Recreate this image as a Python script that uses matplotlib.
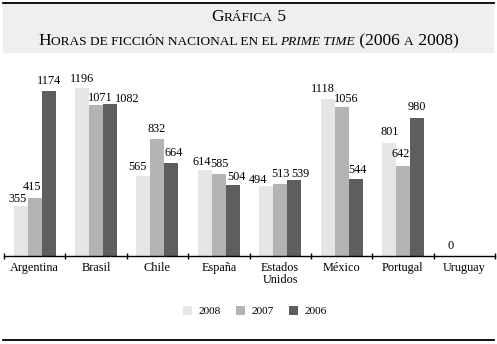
import matplotlib
matplotlib.use("Agg")
import matplotlib.pyplot as plt
import numpy as np
from matplotlib.patches import Rectangle
from matplotlib.lines import Line2D

plt.rcParams['font.family'] = ['Liberation Serif', 'DejaVu Serif']

countries = ["Argentina", "Brasil", "Chile", "España", "Estados\nUnidos", "México", "Portugal", "Uruguay"]
years = ["2008", "2007", "2006"]
v2008 = [355, 1196, 565, 614, 494, 1118, 801, 0]
v2007 = [415, 1071, 832, 585, 513, 1056, 642, 0]
v2006 = [1174, 1082, 664, 504, 539, 544, 980, 0]
colors = ["#e6e6e6", "#b3b3b3", "#5e5e5e"]

# label nudges (pixels): horizontal shift and gap above bar, per country x series
label_dx = [[-3.5, -3, 0.5], [-0.5, 4, 17], [-6, -1, 2], [-3.5, 1, 3.5],
            [-8, 0, 6.5], [-4.5, 4.5, 2], [0.5, -2, -0.5], [0, None, None]]
label_gap = [[4, 8, 7], [6, 4.6, 1.5], [6.5, 7, 6.6], [4.6, 7, 5],
             [3, 7, 3], [7, 5, 6], [8, 9, 8], [7, None, None]]

W, H = 497, 344
fig = plt.figure(figsize=(W/100, H/100), dpi=100)
fig.patch.set_facecolor("white")

# title band
fig.patches.append(Rectangle((3/W, 1 - 53/H), 491/W, 50/H, transform=fig.transFigure,
                             facecolor="#efefef", edgecolor="none", zorder=0))
fig.lines.append(Line2D([3/W, 494/W], [1 - 3/H, 1 - 3/H], transform=fig.transFigure, color="black", lw=1.3))
fig.lines.append(Line2D([3/W, 494/W], [1 - 340/H, 1 - 340/H], transform=fig.transFigure, color="black", lw=1.3))

ax = fig.add_axes([4/W, 88/H, 491/W, 197/H])
n = len(countries)
x = np.arange(n)
bw = 0.228
series = [v2008, v2007, v2006]
for i, (vals, c, yr) in enumerate(zip(series, colors, years)):
    xs = x + (i - 1) * bw
    ax.bar(xs, vals, width=bw, color=c, label=yr, edgecolor="none")

# value labels
for j in range(n):
    for i in range(3):
        if label_dx[j][i] is None:
            continue
        v = series[i][j]
        ax.annotate(str(v), xy=(x[j] + (i - 1) * bw, v),
                    xytext=(label_dx[j][i], label_gap[j][i]), textcoords="offset pixels",
                    ha="center", va="baseline", fontsize=8.8)

ax.set_xlim(-0.5, n - 0.5)
ax.set_ylim(0, 1400)
for s in ["top", "right", "left"]:
    ax.spines[s].set_visible(False)
ax.spines["bottom"].set_linewidth(1.0)
ax.set_yticks([])
ax.set_xticks(np.arange(-0.5, n, 1.0))
ax.set_xticklabels([])
ax.tick_params(axis="x", direction="inout", length=5, width=1)
ax.set_xticks(x, minor=True)
ax.set_xticklabels(countries, minor=True, fontsize=8.8, linespacing=1.1)
ax.tick_params(axis="x", which="minor", length=0, pad=4)

leg = fig.legend(loc="center", bbox_to_anchor=(255/W, 1 - 311/H), ncol=3, frameon=False,
                 fontsize=8.2, handlelength=0.8, handleheight=0.8, columnspacing=1.35,
                 handletextpad=0.55)

# small caps title
def smallcaps_line(pieces, ybase):
    renderer = fig.canvas.get_renderer()
    texts = []
    widths = []
    for txt, size, style in pieces:
        t = fig.text(0, ybase, txt, fontsize=size, style=style, ha="left", va="baseline")
        texts.append(t)
        widths.append(t.get_window_extent(renderer).width)
    total = sum(widths)
    xpos = (W - total) / 2
    for t, w in zip(texts, widths):
        t.set_x(xpos / W)
        xpos += w

big, small = 12.5, 9.6
smallcaps_line([("G", big, "normal"), ("RÁFICA", small, "normal"), (" 5", big, "normal")], 1 - 21/H)
smallcaps_line([("H", big, "normal"), ("ORAS DE FICCIÓN NACIONAL EN EL ", small, "normal"),
                ("PRIME TIME", small, "italic"), (" (2006 ", big, "normal"), ("A", small, "normal"),
                (" 2008)", big, "normal")], 1 - 45/H)

fig.savefig("out.png", dpi=100)
